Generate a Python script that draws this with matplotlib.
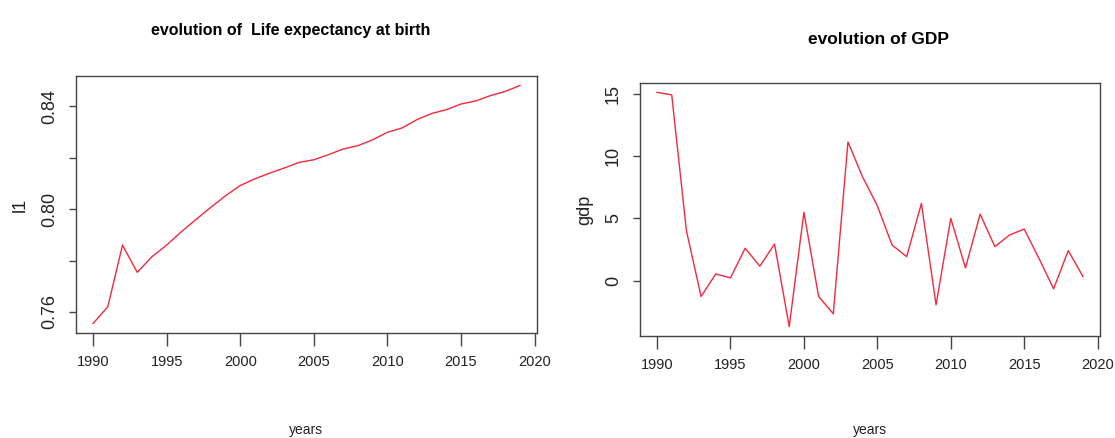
import matplotlib
matplotlib.use("Agg")
import matplotlib.pyplot as plt
from matplotlib import font_manager

years = list(range(1990, 2020))

life_expectancy = [
    0.7555, 0.7620, 0.7860, 0.7754, 0.7815, 0.7860, 0.7912, 0.7960,
    0.8007, 0.8052, 0.8092, 0.8118, 0.8140, 0.8160, 0.8182, 0.8192,
    0.8212, 0.8234, 0.8247, 0.8270, 0.8299, 0.8316, 0.8348, 0.8372,
    0.8387, 0.8409, 0.8421, 0.8442, 0.8458, 0.8481,
]

gdp = [
    15.1, 14.9, 4.0, -1.28, 0.53, 0.21, 2.59, 1.15, 2.93, -3.7,
    5.47, -1.28, -2.67, 11.12, 8.3, 6.0, 2.85, 1.92, 6.19, -1.95,
    4.99, 1.01, 5.33, 2.72, 3.65, 4.13, 1.79, -0.67, 2.4, 0.32,
]

x_ticks = [1990, 1995, 2000, 2005, 2010, 2015, 2020]
life_ticks = [0.76, 0.78, 0.80, 0.82, 0.84]
life_tick_labels = ["0.76", "", "0.80", "", "0.84"]
gdp_ticks = [0, 5, 10, 15]
gdp_tick_labels = ["0", "5", "10", "15"]

available = {f.name for f in font_manager.fontManager.ttflist}
narrow = "Liberation Sans Narrow" if "Liberation Sans Narrow" in available else "Liberation Sans"
wide = "Liberation Sans"


def padded(values, frac=0.04):
    lo, hi = min(values), max(values)
    r = hi - lo
    return lo - frac * r, hi + frac * r


fig = plt.figure(figsize=(11.15, 4.38), dpi=100)
W, H = 1115, 438


def add_axes_px(left, top, right, bottom):
    return fig.add_axes([left / W, 1 - bottom / H, (right - left) / W, (bottom - top) / H])


ax1 = add_axes_px(76, 76, 537, 333)
ax2 = add_axes_px(640, 83, 1100, 336)

panels = [
    (ax1, life_expectancy, life_ticks, life_tick_labels),
    (ax2, gdp, gdp_ticks, gdp_tick_labels),
]

for ax, series, yt, ytl in panels:
    ax.plot(years, series, color="#f5283c", lw=1.0)
    ax.set_xlim(*padded(years))
    ax.set_ylim(*padded(series))
    ax.set_xticks(x_ticks)
    ax.set_xticklabels([str(t) for t in x_ticks], fontfamily=narrow, fontsize=10.5)
    ax.set_yticks(yt)
    ax.set_yticklabels(ytl, fontfamily=wide, fontsize=13, rotation=90, va="center")
    ax.tick_params(axis="x", length=9.5, width=1.0, pad=6.5, colors="#444444", labelcolor="#222222")
    ax.tick_params(axis="y", length=5, width=1.0, pad=8, colors="#444444", labelcolor="#222222")
    for s in ax.spines.values():
        s.set_color("#444444")
        s.set_linewidth(1.0)


def ftext(x, y, s, **kw):
    fig.text(x / W, 1 - y / H, s, ha="center", va="center", **kw)


ftext(291, 30, "evolution of  Life expectancy at birth", fontfamily=narrow,
      fontweight="bold", fontsize=11.5)
ftext(878, 40, "evolution of GDP", fontfamily=narrow, fontweight="bold", fontsize=12.5)
ftext(306, 430, "years", fontfamily=narrow, fontsize=10, color="#222222")
ftext(870, 430, "years", fontfamily=narrow, fontsize=10, color="#222222")
ftext(20, 205, "l1", fontfamily=wide, fontsize=13, rotation=90, color="#222222")
ftext(585, 210, "gdp", fontfamily=wide, fontsize=13, rotation=90, color="#222222")

fig.savefig("out.png", dpi=100, facecolor="white")
